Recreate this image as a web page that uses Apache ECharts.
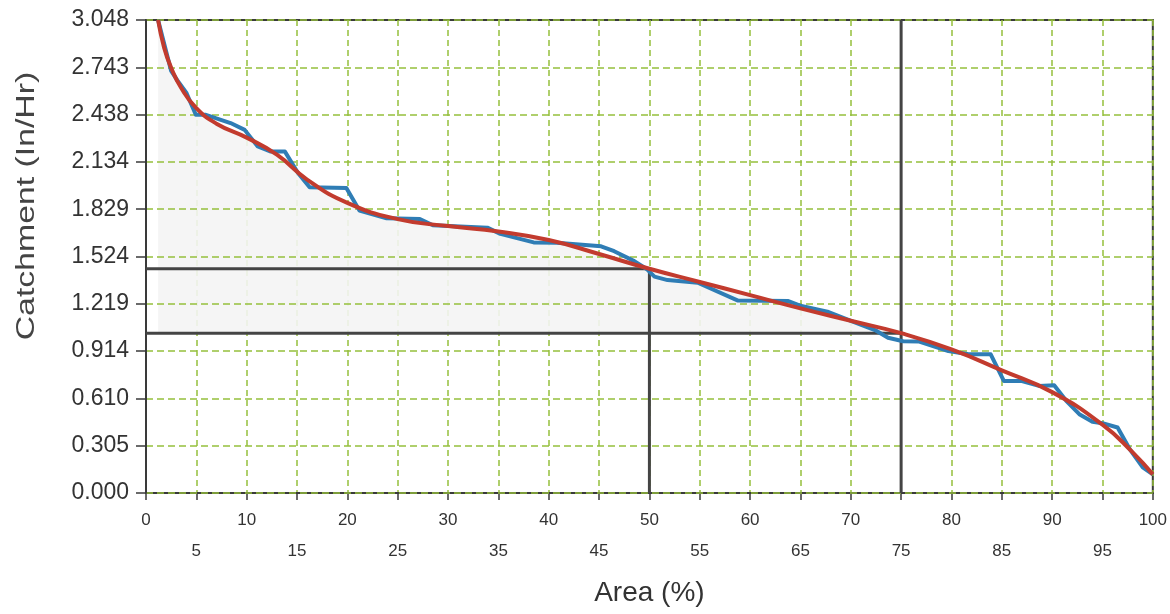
<!DOCTYPE html>
<html>
<head>
<meta charset="utf-8">
<script src="https://cdn.jsdelivr.net/npm/echarts@6/dist/echarts.min.js"></script>
<style>
html,body{margin:0;padding:0;background:#ffffff;}
#chart{width:1170px;height:614px;}
</style>
</head>
<body>
<div id="chart"></div>
<script>
// Measured curve (blue)
var areaX = [1.2, 2.5, 3.1, 4.0, 4.95, 5.95, 8.4, 9.8, 11.1, 12.4, 13.8, 15.1, 16.25, 19.9, 21.2, 23.9, 27.2, 28.5, 33.9, 35.2, 38.5, 40.8, 45.2, 46.5, 48.5, 49.8, 50.5, 51.8, 54.8, 58.8, 63.8, 65.1, 67.8, 70.4, 72.4, 73.7, 75.2, 76.8, 79.7, 81.7, 83.9, 85.2, 87.0, 88.7, 90.2, 91.4, 92.7, 94.0, 95.0, 96.5, 97.7, 99.0, 100];
var catchment = [3.048, 2.72, 2.66, 2.58, 2.437, 2.437, 2.384, 2.34, 2.233, 2.20, 2.20, 2.062, 1.97, 1.965, 1.82, 1.77, 1.766, 1.725, 1.71, 1.67, 1.615, 1.612, 1.59, 1.558, 1.494, 1.44, 1.394, 1.372, 1.355, 1.24, 1.237, 1.205, 1.166, 1.10, 1.05, 1.0, 0.978, 0.976, 0.915, 0.894, 0.894, 0.722, 0.722, 0.69, 0.694, 0.594, 0.508, 0.459, 0.45, 0.422, 0.283, 0.165, 0.12];
// Fitted curve (red)
var fitX = [1.2, 1.8, 2.5, 3.5, 5, 7, 10, 13, 16, 20, 25, 30, 35, 40, 45, 50, 55, 60, 65, 70, 75, 80, 85, 90, 95, 98, 100];
var fitY = [3.048, 2.87, 2.74, 2.61, 2.48, 2.38, 2.29, 2.18, 2.02, 1.87, 1.765, 1.72, 1.685, 1.63, 1.54, 1.445, 1.36, 1.275, 1.19, 1.11, 1.03, 0.925, 0.79, 0.65, 0.44, 0.262, 0.12];
// Reference (read-off) lines
var refX = [50, 75];
var refY = [1.445, 1.03];
// Axis
var yMin = 0, yMax = 3.048, yStep = 0.3048;
var xMin = 0, xMax = 100, xStep = 5;

var chart = echarts.init(document.getElementById('chart'), null, {renderer: 'canvas'});
var font = '"Liberation Sans", Arial, sans-serif';
var gridGreen = '#95c03c';
var dark = '#3a3a3a';

function pairs(xs, ys) { return xs.map(function (x, i) { return [x, ys[i]]; }); }
var fitPairs = pairs(fitX, fitY);
var shadePairs = fitPairs.filter(function (p) { return p[0] <= refX[1]; });

var option = {
  animation: false,
  backgroundColor: '#ffffff',
  grid: {left: 146, right: 16, top: 20, bottom: 121, show: true, borderColor: dark, borderWidth: 2, backgroundColor: 'transparent'},
  xAxis: {
    type: 'value', min: xMin, max: xMax, interval: xStep, z: 0,
    name: 'Area (%)', nameLocation: 'middle', nameGap: 86,
    nameTextStyle: {fontFamily: font, fontSize: 28, color: '#333'},
    axisLine: {lineStyle: {color: dark, width: 2}},
    axisTick: {show: true, length: 7, lineStyle: {color: dark, width: 1.5}},
    axisLabel: {
      fontFamily: font, fontSize: 17, color: '#333', margin: 12, lineHeight: 31,
      showMinLabel: true, showMaxLabel: true,
      formatter: function (v) { return (Math.round(v) % 10 === 0) ? String(Math.round(v)) : '\n' + Math.round(v); }
    },
    splitLine: {show: true, lineStyle: {color: gridGreen, width: 1.5, type: [6, 4]}}
  },
  yAxis: {
    type: 'value', min: yMin, max: yMax, interval: yStep, z: 2,
    axisLine: {show: true, lineStyle: {color: dark, width: 2}},
    axisTick: {show: true, length: 10, lineStyle: {color: dark, width: 1.5}},
    axisLabel: {fontFamily: font, fontSize: 23, color: '#333', margin: 17,
      formatter: function (v) { return v.toFixed(3); }},
    splitLine: {show: true, lineStyle: {color: gridGreen, width: 1.5, type: [7, 4]}}
  },
  graphic: [{
    type: 'text', x: 27, y: 206, rotation: Math.PI / 2, scaleX: 1.3, scaleY: 1,
    style: {text: 'Catchment (In/Hr)', font: '26px "Liberation Sans", Arial, sans-serif', fill: '#444', textAlign: 'center', textVerticalAlign: 'middle'}
  }],
  series: [
    {
      name: 'shade', type: 'line', data: shadePairs, smooth: 0.5, symbol: 'none', silent: true, z: 1,
      lineStyle: {width: 0, opacity: 0},
      areaStyle: {origin: refY[1], color: '#f4f4f4', opacity: 0.9}
    },
    {
      name: 'ref1', type: 'line', symbol: 'none', silent: true, z: 3,
      data: [[xMin, refY[0]], [refX[0], refY[0]], [refX[0], yMin]],
      lineStyle: {color: '#444', width: 3}
    },
    {
      name: 'ref2', type: 'line', symbol: 'none', silent: true, z: 3,
      data: [[xMin, refY[1]], [refX[1], refY[1]]],
      lineStyle: {color: '#444', width: 3}
    },
    {
      name: 'ref3', type: 'line', symbol: 'none', silent: true, z: 3,
      data: [[refX[1], yMin], [refX[1], yMax]],
      lineStyle: {color: '#444', width: 3}
    },
    {
      name: 'Measured', type: 'line', data: pairs(areaX, catchment), symbol: 'none', z: 4,
      lineStyle: {color: '#2f7db5', width: 4, join: 'round'}
    },
    {
      name: 'Fit', type: 'line', data: fitPairs, smooth: 0.5, symbol: 'none', z: 5,
      lineStyle: {color: '#c23b2e', width: 4}
    }
  ]
};
chart.setOption(option);
</script>
</body>
</html>
